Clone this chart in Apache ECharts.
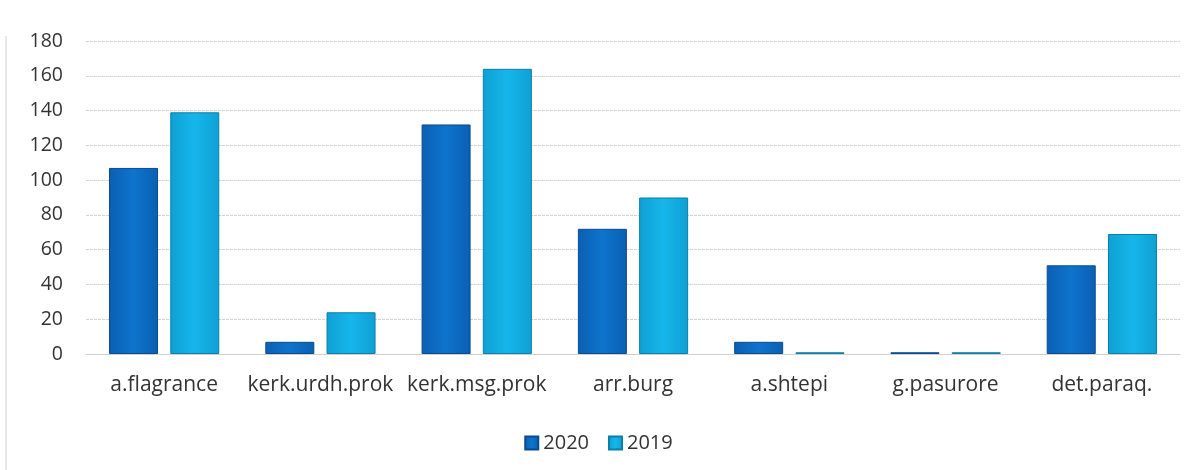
<!DOCTYPE html>
<html><head><meta charset="utf-8">
<script src="https://cdn.jsdelivr.net/npm/echarts@6/dist/echarts.min.js"></script>
<style>html,body{margin:0;padding:0;background:#fff}#c{width:1197px;height:470px}</style>
</head><body><div id="c"></div>
<script>
const categories = ['a.flagrance','kerk.urdh.prok','kerk.msg.prok','arr.burg','a.shtepi','g.pasurore','det.paraq.'];
const values2020 = [107, 7, 132, 72, 7, 1, 51];
const values2019 = [139, 24, 164, 90, 1, 1, 69];
const yTicks = [0, 20, 40, 60, 80, 100, 120, 140, 160, 180];

const chart = echarts.init(document.getElementById('c'));
function grad(a, b, c) {
  return new echarts.graphic.LinearGradient(0, 0, 1, 0, [
    {offset: 0, color: a}, {offset: 0.5, color: b}, {offset: 1, color: c}
  ]);
}
chart.setOption({
  backgroundColor: '#fff',
  animation: false,
  graphic: [{type: 'line', shape: {x1: 6, y1: 36, x2: 6, y2: 470}, style: {stroke: '#d4d4d4', lineWidth: 1}}],
  grid: {left: 86, right: 17, top: 41, bottom: 116},
  legend: {
    data: ['2020', '2019'], top: 428, left: 'center', icon: 'rect', itemWidth: 13, itemHeight: 13, itemGap: 19,
    textStyle: {fontSize: 20, color: '#333', fontFamily: 'Open Sans'}
  },
  xAxis: {
    type: 'category', data: categories,
    axisLine: {show: true, lineStyle: {color: '#d0d0d0'}}, axisTick: {show: false},
    axisLabel: {fontSize: 21, color: '#333', margin: 21, fontFamily: 'Open Sans', interval: 0}
  },
  yAxis: {
    type: 'value', min: yTicks[0], max: yTicks[yTicks.length - 1], interval: 20,
    axisLine: {show: false}, axisTick: {show: false},
    axisLabel: {fontSize: 19.5, color: '#333', margin: 23, fontFamily: 'Open Sans'},
    splitLine: {lineStyle: {color: '#d2d2d2', type: [3, 1]}}
  },
  series: [
    {name: '2020', type: 'bar', data: values2020, barWidth: 49, barGap: '25%',
     itemStyle: {color: grad('#0a5fb4', '#0e74cc', '#0a5fb4'), borderColor: '#0b4a8f', borderWidth: 1}},
    {name: '2019', type: 'bar', data: values2019, barWidth: 49,
     itemStyle: {color: grad('#0fa0d4', '#16b6ea', '#0fa0d4'), borderColor: '#0b7fa8', borderWidth: 1}}
  ]
});
</script></body></html>
